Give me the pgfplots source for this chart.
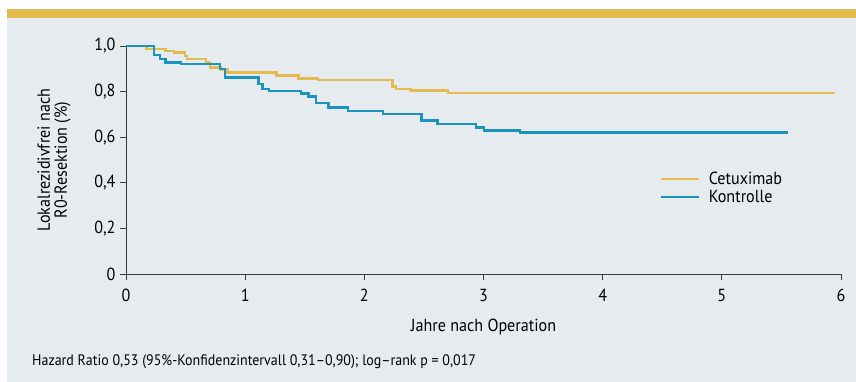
\documentclass[border=0pt]{standalone}
\usepackage{pgfplots}
\pgfplotsset{compat=1.18}
\usepackage{fontspec}
\setmainfont{PT Sans}[FakeStretch=0.92]
\definecolor{bgc}{HTML}{E6EBEF}
\definecolor{band}{HTML}{E2BB4C}
\definecolor{cetux}{HTML}{E3BB4E}
\definecolor{kontr}{HTML}{1A94BC}
\definecolor{axc}{HTML}{3A3A3A}
\begin{document}
\begin{tikzpicture}[x=1pt,y=1pt]
\useasboundingbox (-126,-108) rectangle (730,274);
\fill[white] (-126,-108) rectangle (730,274);
\fill[bgc] (-119,-108) rectangle (730,256);
\fill[band] (-119,256) rectangle (730,265);
\begin{axis}[
  at={(0,0)}, anchor=origin,
  scale only axis, width=715pt, height=228pt,
  xmin=0, xmax=6, ymin=0, ymax=1,
  axis x line=bottom, axis y line=left,
  axis line style={-, axc, line width=0.8pt},
  clip=false,
  xtick={0,1,2,3,4,5,6},
  xticklabels={0,1,2,3,4,5,6},
  ytick={0,0.2,0.4,0.6,0.8,1.0},
  yticklabels={0,{0,2},{0,4},{0,6},{0,8},{1,0}},
  tick align=outside,
  major tick length=6pt,
  tick style={axc, line width=0.7pt},
  ticklabel style={font=\fontsize{17.5}{20}\selectfont, text=black},
  xticklabel style={yshift=-6pt},
  yticklabel style={xshift=-1pt},
  xlabel={Jahre nach Operation},
  xlabel style={font=\fontsize{17.5}{20}\selectfont, at={(axis description cs:0.5,-0.2325)}, anchor=center},
  ylabel={Lokalrezidivfrei nach\\R0-Resektion (\%)},
  ylabel style={font=\fontsize{17.5}{17}\selectfont, align=center, at={(axis description cs:-0.1007,0.5)}, anchor=center},
  legend style={draw=none, fill=none, at={(axis cs:4.45,0.465)}, anchor=north west,
    font=\fontsize{17.5}{20}\selectfont, row sep=0pt},
  legend cell align=left,
  legend image code/.code={\draw[#1, line width=2.2pt] (0pt,0pt) -- (38pt,0pt); \path (45pt,0pt);},
]
\addplot[const plot mark left, cetux, line width=2.4pt, line join=miter] coordinates {
(0,1.0) (0.173,0.987) (0.333,0.979) (0.405,0.971) (0.495,0.956) (0.51,0.943)
(0.67,0.928) (0.705,0.906) (0.795,0.897) (0.853,0.883) (1.264,0.870)
(1.449,0.857) (1.613,0.850) (2.237,0.822) (2.268,0.811) (2.388,0.804)
(2.70,0.795) (5.95,0.795)};
\addlegendentry{Cetuximab}
\addplot[const plot mark left, kontr, line width=2.4pt, line join=miter] coordinates {
(0,1.0) (0.235,0.96) (0.285,0.943) (0.333,0.928) (0.46,0.92) (0.79,0.899)
(0.83,0.861) (1.113,0.832) (1.144,0.811) (1.20,0.803) (1.468,0.791)
(1.53,0.778) (1.594,0.749) (1.70,0.73) (1.862,0.715) (2.155,0.703)
(2.48,0.674) (2.615,0.659) (2.936,0.642) (3.003,0.629) (3.305,0.620)
(5.556,0.620)};
\addlegendentry{Kontrolle}
\end{axis}
\node[anchor=west, font=\fontsize{15.2}{17}\selectfont, inner sep=0pt] at (-94,-88)
  {Hazard Ratio 0,53 (95\%-Konfidenzintervall 0,31–0,90); log–rank p = 0,017};
\end{tikzpicture}
\end{document}
